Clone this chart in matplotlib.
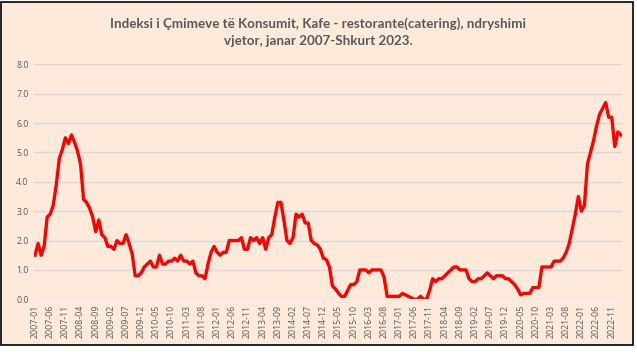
import matplotlib
matplotlib.use('Agg')
import matplotlib.pyplot as plt
from matplotlib.patches import Rectangle

# annual change by month, jan 2007 - feb 2023
y2007 = [1.5, 1.9, 1.5, 1.8, 2.8, 2.9, 3.2, 3.9, 4.8, 5.1, 5.5, 5.3]
y2008 = [5.6, 5.35, 5.05, 4.6, 3.4, 3.3, 3.1, 2.8, 2.3, 2.7, 2.2, 2.1]
y2009 = [1.8, 1.8, 1.7, 2.0, 1.9, 1.9, 2.2, 1.9, 1.55, 0.8, 0.8, 0.9]
y2010 = [1.1, 1.2, 1.3, 1.1, 1.1, 1.5, 1.2, 1.2, 1.3, 1.3, 1.4, 1.3]
y2011 = [1.5, 1.3, 1.3, 1.2, 1.3, 0.9, 0.8, 0.8, 0.7, 1.2, 1.6, 1.8]
y2012 = [1.6, 1.5, 1.6, 1.6, 2.0, 2.0, 2.0, 2.0, 2.1, 1.7, 1.7, 2.1]
y2013 = [2.0, 2.1, 1.9, 2.1, 1.7, 2.1, 2.2, 2.8, 3.3, 3.3, 2.7, 2.0]
y2014 = [1.9, 2.1, 2.9, 2.8, 2.9, 2.6, 2.6, 2.0, 1.9, 1.85, 1.7, 1.4]
y2015 = [1.35, 1.1, 0.45, 0.35, 0.2, 0.1, 0.1, 0.3, 0.5, 0.5, 0.6, 1.0]
y2016 = [1.0, 1.0, 0.9, 1.0, 1.0, 1.0, 1.0, 0.75, 0.1, 0.1, 0.1, 0.1]
y2017 = [0.1, 0.2, 0.15, 0.1, 0.05, 0.0, 0.0, 0.1, 0.0, 0.0, 0.3, 0.7]
y2018 = [0.6, 0.7, 0.7, 0.8, 0.9, 1.0, 1.1, 1.1, 1.0, 1.0, 1.0, 0.7]
y2019 = [0.6, 0.6, 0.7, 0.7, 0.8, 0.9, 0.8, 0.7, 0.8, 0.8, 0.8, 0.7]
y2020 = [0.7, 0.6, 0.5, 0.35, 0.15, 0.2, 0.2, 0.2, 0.4, 0.4, 0.4, 1.1]
y2021 = [1.1, 1.1, 1.1, 1.3, 1.3, 1.3, 1.4, 1.6, 1.9, 2.4, 2.9, 3.5]
y2022 = [3.0, 3.2, 4.6, 5.0, 5.4, 5.9, 6.3, 6.5, 6.7, 6.2, 6.2, 5.2]
y2023 = [5.7, 5.6]

values = (y2007 + y2008 + y2009 + y2010 + y2011 + y2012 + y2013 + y2014 + y2015
          + y2016 + y2017 + y2018 + y2019 + y2020 + y2021 + y2022 + y2023)
months = []
for yr in range(2007, 2024):
    for m in range(1, 13):
        months.append('%d-%02d' % (yr, m))
months = months[:len(values)]

title = 'Indeksi i Çmimeve të Konsumit, Kafe - restorante(catering), ndryshimi\nvjetor, janar 2007-Shkurt 2023.'

bg = '#FDEADA'
txt = '#595959'
plt.rcParams['font.family'] = ['Open Sans', 'DejaVu Sans']

fig = plt.figure(figsize=(6.37, 3.52), dpi=100, facecolor='white')
fig.patches.append(Rectangle((0.002, 0.02), 0.992, 0.975, transform=fig.transFigure,
                             facecolor=bg, edgecolor='black', linewidth=1.2, zorder=-1))
ax = fig.add_axes([0.0526, 0.1497, 0.9244, 0.6673])
ax.set_facecolor(bg)

x = list(range(len(values)))
ax.plot(x, values, color='#FF0000', linewidth=2.4, solid_joinstyle='round')

ax.set_xlim(-0.5, len(values) - 0.5)
ax.set_ylim(0, 8)
ax.set_yticks([0, 1, 2, 3, 4, 5, 6, 7, 8])
ax.set_yticklabels(['%.1f' % v for v in range(9)])
ax.set_xticks(x[::5])
ax.set_xticklabels(months[::5], rotation=90)
ax.tick_params(axis='both', length=0, labelsize=6.3, colors=txt)
ax.tick_params(axis='x', pad=4)
ax.grid(axis='y', color='#D9D9D9', linewidth=1)
ax.set_axisbelow(True)
for s in ax.spines.values():
    s.set_visible(False)

fig.text(0.5, 0.91, title, ha='center', va='center', fontsize=9.6,
         fontweight='bold', color=txt, linespacing=1.5, family=['Lato', 'DejaVu Sans'])

fig.savefig('out.png', dpi=100, facecolor='white')
